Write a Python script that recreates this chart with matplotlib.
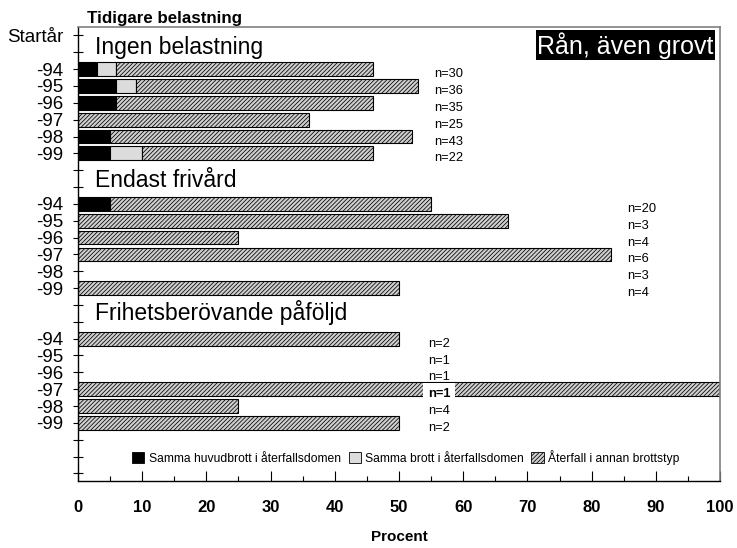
import matplotlib
matplotlib.use("Agg")
import matplotlib.pyplot as plt
from matplotlib.patches import Patch
import numpy as np

groups = ['Ingen belastning', 'Endast frivård', 'Frihetsberövande påföljd']
years = ['-94', '-95', '-96', '-97', '-98', '-99']
same_main = [[3, 6, 6, 0, 5, 5], [5, 0, 0, 0, 0, 0], [0, 0, 0, 0, 0, 0]]
same_crime = [[3, 3, 0, 0, 0, 5], [0, 0, 0, 0, 0, 0], [0, 0, 0, 0, 0, 0]]
other_type = [[40, 44, 40, 36, 47, 36], [50, 67, 25, 83, 0, 50], [50, 0, 0, 100, 25, 50]]
n_values = [[30, 36, 35, 25, 43, 22], [20, 3, 4, 6, 3, 4], [2, 1, 1, 1, 4, 2]]
series_labels = ['Samma huvudbrott i återfallsdomen', 'Samma brott i återfallsdomen',
                 'Återfall i annan brottstyp']
xticks = [0, 10, 20, 30, 40, 50, 60, 70, 80, 90, 100]

plt.rcParams['font.family'] = ['Liberation Sans', 'DejaVu Sans']
plt.rcParams['hatch.linewidth'] = 0.55

fig = plt.figure(figsize=(7.37, 5.48), dpi=100)
ax = fig.add_axes([0.1058, 0.1223, 0.8712, 0.8284])

group_start = [2, 10, 18]
header_base = [1.1, 9.0, 16.9]
n_x = [55.5, 85.5, 54.5]
hatch_fc = '#cfcfcf'
gray_fc = '#dcdcdc'
HATCH = '////////'

for g in range(3):
    for i in range(6):
        y = group_start[g] + i
        left = 0
        for val, fc, hatch in [(same_main[g][i], 'black', None),
                               (same_crime[g][i], gray_fc, None),
                               (other_type[g][i], hatch_fc, HATCH)]:
            if val > 0:
                ax.barh(y, val, left=left, height=0.82, color=fc, edgecolor='black',
                        linewidth=0.8, hatch=hatch, zorder=2)
                left += val
        bold = (g == 2 and i == 3)
        t = ax.text(n_x[g], y + 0.3, f'n={n_values[g][i]}', fontsize=9.3,
                    fontweight='bold' if bold else 'normal', va='center', ha='left', zorder=5)
        if bold:
            t.set_bbox(dict(facecolor='white', edgecolor='none', pad=3.5))
    ax.text(2.6, header_base[g], groups[g], fontsize=16.5, va='baseline', ha='left')

ax.set_xlim(0, 100)
ax.set_ylim(26.45, -0.5)

yt = list(range(27))
ylab = [''] * 27
ylab[0] = 'Startår'
for g in range(3):
    for i in range(6):
        ylab[group_start[g] + i] = years[i]
ax.set_yticks(yt)
ax.set_yticklabels(ylab, fontsize=13.5)
ax.tick_params(axis='y', direction='inout', length=7.2, width=0.8, pad=7)

ax.set_xticks(xticks)
ax.set_xticks(np.arange(5, 100, 10), minor=True)
ax.set_xticklabels([str(v) for v in xticks], fontsize=12, fontweight='bold')
ax.tick_params(axis='x', which='major', direction='in', length=7, width=0.8, pad=13.5)
ax.tick_params(axis='x', which='minor', direction='in', length=3.5, width=0.8)
ax.set_xlabel('Procent', fontsize=11, fontweight='bold', labelpad=11)

for s in ['top', 'right']:
    ax.spines[s].set_color('#808080')
    ax.spines[s].set_linewidth(1.2)
for s in ['left', 'bottom']:
    ax.spines[s].set_color('black')
    ax.spines[s].set_linewidth(1.0)

fig.text(0.118, 0.967, 'Tidigare belastning', fontsize=12.2, fontweight='bold', va='center')
ax.text(99.0, 0.59, 'Rån, även grovt', fontsize=18, color='white', ha='right', va='center',
        bbox=dict(facecolor='black', edgecolor='none', pad=1.2), zorder=6)

handles = [Patch(facecolor='black', edgecolor='black', linewidth=0.6),
           Patch(facecolor=gray_fc, edgecolor='black', linewidth=0.6),
           Patch(facecolor=hatch_fc, edgecolor='black', linewidth=0.6, hatch=HATCH)]
ax.legend(handles, series_labels, loc='center', bbox_to_anchor=(0.511, 0.052), ncol=3,
          frameon=False, handlelength=1.0, handleheight=1.0,
          handletextpad=0.4, columnspacing=0.6, borderpad=0.2,
          prop={'family': ['Liberation Sans', 'DejaVu Sans'], 'size': 8.7})

fig.savefig('out.png', dpi=100)
